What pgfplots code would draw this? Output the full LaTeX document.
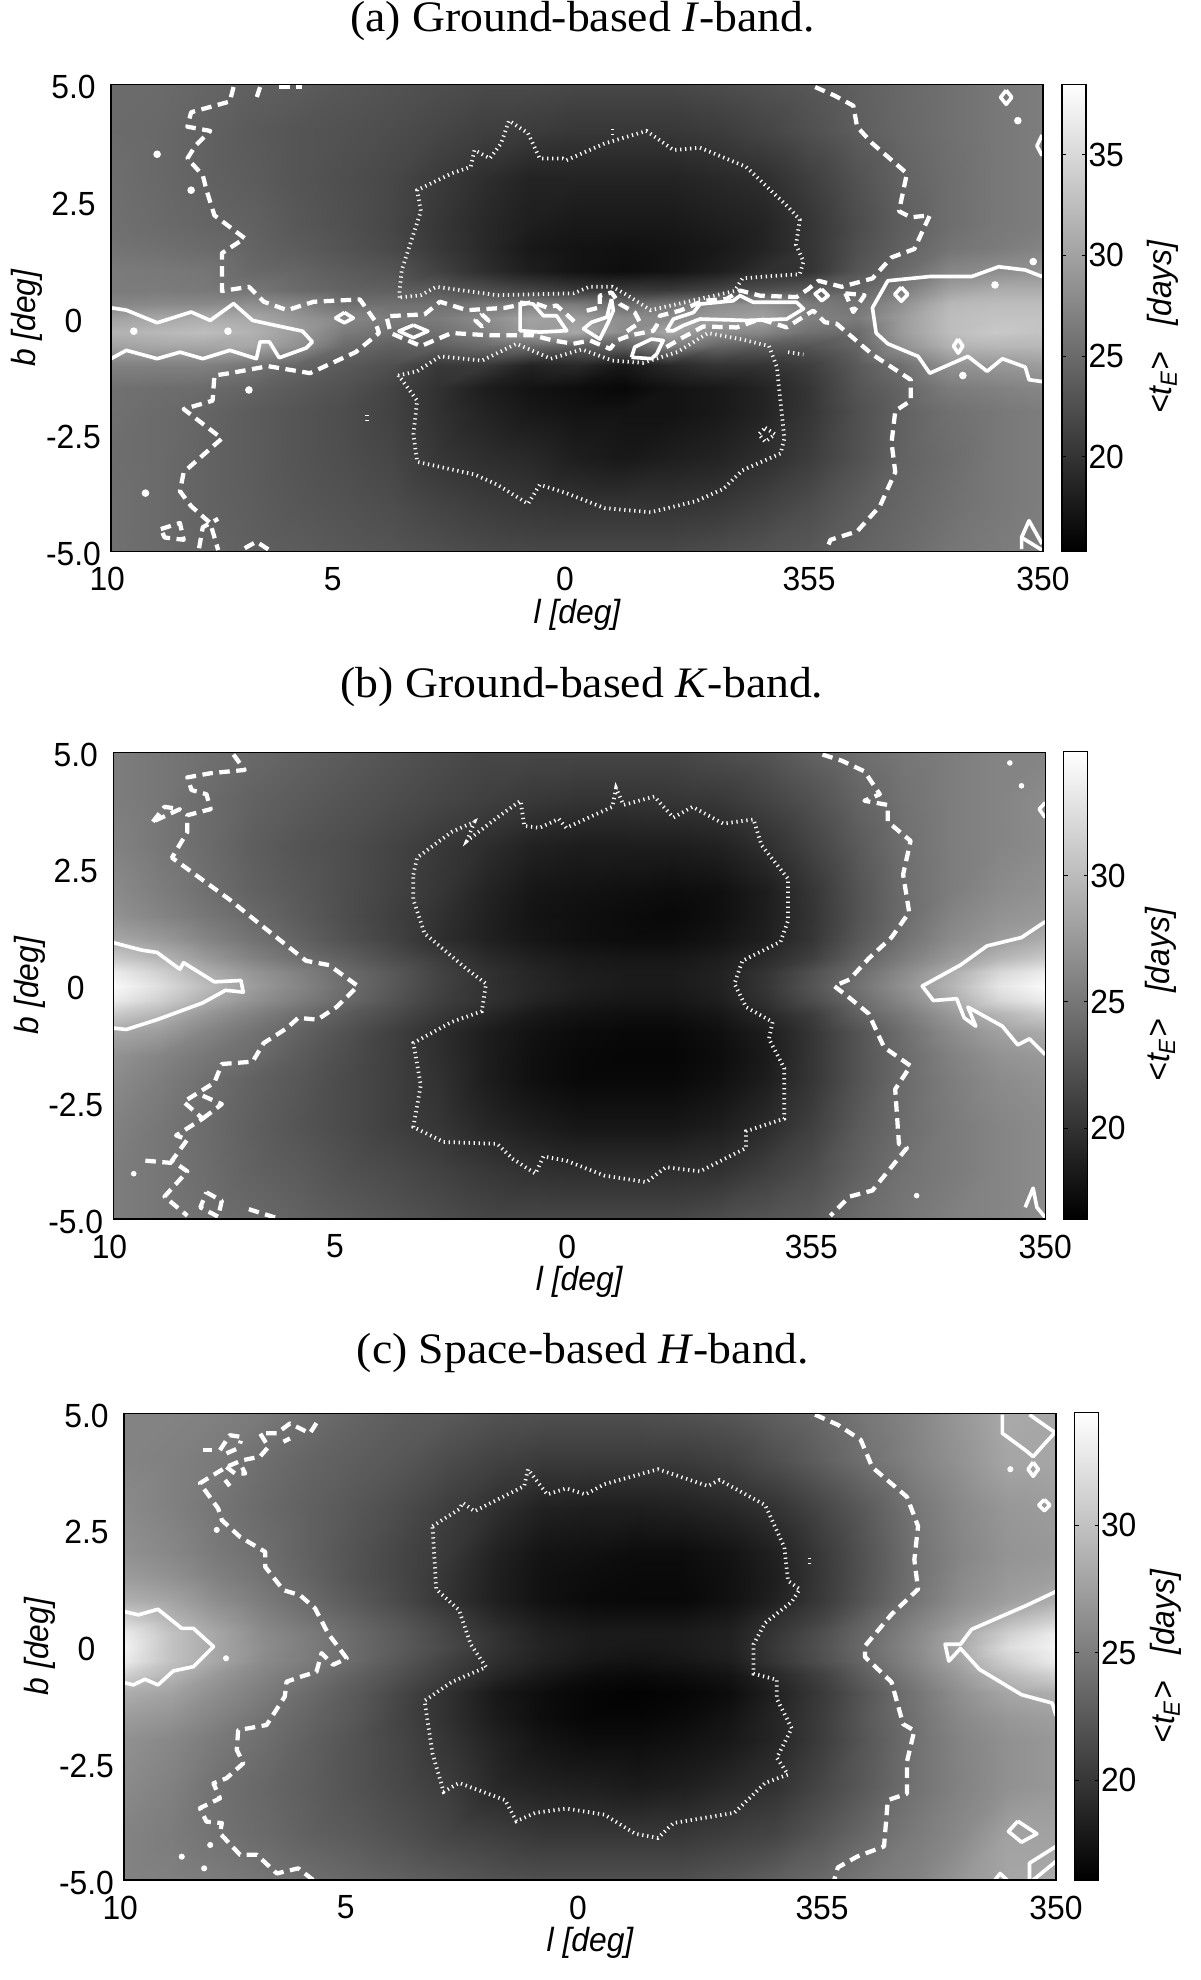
\documentclass[border=0pt]{standalone}
\usepackage{pgfplots}
\usepackage{pgfplotstable}
\usepackage{fontspec}
\pgfplotsset{compat=1.18}
\setmainfont{Liberation Serif}
\newfontfamily\hv[FakeStretch=0.95]{Liberation Sans}
\newfontfamily\tm[FakeStretch=1.05]{Liberation Serif}
\newcommand\hvf{\hv\fontsize{13.4}{16}\selectfont}
\newcommand\tmf{\tm\fontsize{17.4}{20}\selectfont}
% t_E maps: rows b=5,4,3,2,1.5,1,.6,.3,0,-.3,-.6,-1,-1.5,-2,-3,-4,-5 ; columns l=10,9,...,-10
\pgfplotstableread[row sep=\\,header=false]{
25\\25\\24.5\\24\\23.7\\23.2\\22.8\\22.4\\22\\22\\21.8\\21.8\\21.8\\22.2\\22.7\\23.2\\24\\24.8\\25.5\\26.2\\26.7\\
25\\24.8\\24.2\\23.5\\23\\22.7\\22.3\\21.7\\21\\20.7\\20.3\\20.3\\20.3\\20.7\\21.5\\22.6\\23.8\\24.7\\25.5\\26.2\\26.7\\
25.3\\24.8\\24.2\\23.7\\23\\22.4\\21.8\\20.7\\19.5\\18.5\\18.5\\18.5\\18.5\\19\\19.5\\21\\22.8\\24.3\\25.3\\26.2\\26.7\\
25.5\\25\\24.5\\24.2\\23.3\\22.6\\21.7\\20.3\\19\\18\\17.5\\17.5\\17.5\\18\\18.5\\20.1\\22.2\\23.9\\25.3\\26.2\\26.7\\
25.8\\25.5\\25\\24.4\\23.7\\22.9\\22\\20.5\\19\\17.5\\17\\16.8\\17\\17.5\\18.5\\20.1\\22.5\\24.2\\25.8\\26.5\\27.3\\
26.5\\26.3\\26\\24.8\\24.5\\23.7\\23\\21.3\\19.5\\18\\17\\16.5\\17\\18\\19.5\\20\\23\\25\\27.5\\28.2\\28.7\\
26.5\\26.5\\26.3\\26\\25\\24.3\\24\\23.5\\22.5\\21.5\\20.5\\20.5\\20.5\\21.5\\22.5\\23.5\\24.5\\26.7\\30\\31\\31\\
27.5\\27.8\\27.8\\28.3\\27.5\\25.5\\25.5\\25.5\\26\\27\\26.5\\25\\26\\28\\28.5\\26.5\\25.8\\28.5\\32\\32.5\\32.5\\
30\\30.5\\31\\30.5\\29\\27.5\\26.5\\26.5\\28\\30\\29.5\\28\\28\\29.5\\30\\27\\26.5\\29.5\\32.5\\33\\33\\
31.5\\32\\32.5\\31.5\\29.5\\26.5\\25.5\\25.5\\27\\29.5\\30.5\\28\\30.5\\28\\27.5\\25.5\\25\\29.5\\32.5\\33.5\\33\\
30\\30.5\\30.5\\30.5\\28.5\\25\\24\\24\\25\\25\\24\\24\\27\\24.5\\23.5\\23\\24.5\\28.5\\31.5\\32\\32\\
27\\27\\27\\26\\24.5\\23.5\\22.5\\20.5\\20.5\\18.5\\19\\17.5\\19\\20\\20\\21\\23.5\\25.5\\28.5\\29\\29.5\\
25.5\\25.3\\25\\24.3\\23.5\\22.7\\21.5\\19.8\\18\\17\\16.5\\16\\17\\17.5\\18.5\\20.2\\23\\24.5\\26.5\\27\\27.5\\
25.5\\25\\24.5\\23.7\\23\\22.3\\21.3\\19.8\\18.5\\17.5\\17\\17\\17\\17.5\\18.5\\20.2\\22.5\\24.2\\25.5\\26.2\\26.7\\
25.3\\25\\24.3\\23.7\\23\\22.4\\21.7\\20.3\\19.5\\19\\18\\17.5\\18\\18.5\\19.5\\20.8\\22.7\\24.3\\25.2\\26.2\\26.7\\
25.5\\25\\24.3\\23.8\\23.2\\22.8\\22.3\\21.5\\20.8\\20.3\\20\\20\\20\\20.3\\21.2\\22.3\\23.7\\24.6\\25.5\\26.2\\26.7\\
25.5\\25\\24.5\\24\\23.7\\23.3\\23\\22.5\\22\\21.8\\21.8\\21.8\\21.8\\22.2\\22.8\\23.3\\24.2\\25\\26\\26.5\\27\\
}\tabA
\pgfplotstableread[row sep=\\,header=false]{
25.5\\25\\24.5\\24\\23.5\\23\\22.5\\22\\21.5\\21.5\\21.5\\21.5\\21.5\\22\\22.5\\23.5\\24.4\\25\\25.5\\26\\26\\
25.5\\25\\24.2\\23.5\\23\\22.5\\22\\21.5\\21\\20.5\\20.2\\20.2\\20.3\\20.5\\21.3\\22.3\\23.7\\24.7\\25.5\\26\\26.5\\
25.8\\25\\24.2\\23.2\\22.5\\22\\21.3\\20.5\\19.7\\18.8\\18.5\\18.5\\18.5\\18.8\\19.8\\21.3\\23\\24.5\\25.5\\26\\26.5\\
26.5\\25.5\\24.5\\23.5\\22.8\\22\\21.2\\20.3\\19\\18\\17.7\\17.5\\17.3\\17.5\\18.5\\20.3\\22.5\\24.3\\25.5\\26.5\\27\\
27\\26\\25\\24\\23\\22\\21\\20\\18.8\\17.8\\17.5\\17.2\\17\\17.5\\18.5\\20.2\\22.5\\24.3\\26\\27\\27.5\\
28.5\\27.5\\26\\24.7\\23.5\\22.3\\21.2\\19.8\\18.8\\18\\17.5\\17.3\\17.3\\17.8\\18.7\\20.3\\22.8\\24.7\\26.5\\27.7\\29\\
31\\29.5\\27.5\\25.8\\24.4\\23.3\\22\\20.8\\19.5\\18.7\\18.2\\18\\18\\18.5\\19.5\\21\\23.5\\25.5\\27.5\\29.5\\31\\
33.5\\31.5\\29\\27.2\\25.7\\24.1\\22.8\\21.2\\20\\19.1\\18.5\\18.3\\18.3\\18.8\\20.2\\22.2\\24.3\\26.5\\29\\32\\33.5\\
34.5\\32.5\\30\\27.7\\26\\24.3\\22.8\\21.2\\20\\19.2\\18.6\\18.3\\18.3\\18.8\\20.3\\22.5\\24.7\\27\\29.5\\33\\34.5\\
33.5\\31.5\\29\\27\\25.5\\24\\22.5\\21\\20\\19\\18.3\\18\\18\\18.6\\20\\22\\24.2\\26.3\\28.8\\32\\33.5\\
31\\29.5\\27.3\\25.7\\24.3\\23\\21.8\\20.5\\19.3\\18.2\\17.7\\17.5\\17.5\\18\\19.3\\20.8\\23.5\\25.3\\27.5\\29.5\\31\\
28.5\\27.7\\26\\24.7\\23.5\\22.3\\21\\19.7\\18.5\\17.7\\17.2\\17\\17\\17.5\\18.5\\20.3\\22.5\\24.5\\26.5\\28\\28.7\\
27\\26\\25\\24.2\\23\\22\\21\\19.8\\18.5\\17.5\\17\\16.8\\16.8\\17.3\\18.3\\20.3\\22.5\\24.2\\25.8\\27\\27.5\\
26.5\\25.5\\24.5\\23.5\\22.7\\21.8\\21\\20\\18.5\\17.5\\17\\17\\17\\17.5\\18.5\\20.3\\22.5\\24.2\\25.5\\26.5\\27\\
25.8\\25\\24.2\\23.3\\22.5\\21.8\\21\\20.3\\19.2\\18.5\\18\\18\\18\\18.5\\19.5\\21\\23\\24.3\\25.3\\26\\26.5\\
25.5\\25\\24.3\\23.5\\23\\22.3\\21.8\\21.2\\20.5\\20\\19.8\\19.8\\19.8\\20\\21\\22\\23.5\\24.7\\25.3\\26\\26.5\\
25.5\\25\\24.5\\24\\23.5\\23\\22.5\\22\\21.5\\21.5\\21.5\\21.5\\21.5\\22\\22.5\\23\\24.2\\25\\25.7\\26\\26.5\\
}\tabB
\pgfplotstableread[row sep=\\,header=false]{
25.5\\25.5\\25.3\\24.8\\24\\23.3\\22.8\\22.5\\22\\21.8\\21.8\\21.8\\22\\22.3\\23\\23.7\\24.8\\25.7\\27\\28.3\\28\\
25.5\\25.3\\24.8\\24\\23.3\\22.8\\22.3\\21.5\\20.8\\20.3\\20.3\\20.3\\20.3\\20.8\\21.8\\23\\24.3\\25.5\\26.7\\28\\28\\
26\\25.3\\24.5\\23.7\\23\\22.3\\21.5\\20.5\\19.5\\18.5\\18.3\\18.3\\18.5\\19\\19.8\\21.2\\22.8\\24.6\\26\\27\\27.3\\
26.5\\25.8\\24.8\\24\\23\\22\\21\\20.1\\18.5\\17.5\\17.3\\17\\17\\17.5\\18.5\\20.3\\22.3\\24.3\\25.7\\26.7\\27\\
27.3\\26.5\\25.3\\24.3\\23.2\\22\\21\\19.8\\18.3\\17.3\\17\\16.8\\16.8\\17.3\\18.3\\20.2\\22.3\\24.3\\26\\27\\27.5\\
28.7\\27.8\\26.2\\24.9\\23.7\\22.5\\21.2\\19.7\\18.3\\17.3\\16.8\\16.7\\16.7\\17.3\\18.5\\20.3\\22.5\\24.5\\26.3\\27.5\\28.5\\
31\\29\\27.2\\25.5\\24.3\\23.2\\22\\20.6\\19\\18\\17.5\\17.5\\17.5\\18\\19.5\\21\\23.4\\25.3\\27.2\\29.2\\31\\
33\\30\\28\\26\\24.9\\23.6\\22.4\\21\\19.6\\18.4\\18\\18\\18\\18.4\\20\\21.8\\23.8\\25.8\\28.2\\31\\33\\
33.5\\30\\28\\26.2\\25\\23.7\\22.5\\21.2\\19.7\\18.6\\18\\17.8\\18\\18.5\\20.2\\22\\24\\26\\28.5\\32\\33.5\\
33\\30\\28\\26\\24.9\\23.6\\22.2\\20.7\\19.4\\18.4\\17.7\\17.4\\17.7\\18.2\\20\\21.8\\23.8\\25.8\\28.2\\31\\33\\
31\\29\\27\\25.5\\24.3\\23\\21.7\\20.3\\18.8\\17.8\\17\\16.8\\17\\17.5\\19\\20.8\\23.2\\25.2\\27.4\\29.5\\31\\
28.5\\27.7\\26.2\\25\\23.7\\22.5\\21\\19.5\\17.8\\17\\16.5\\16.3\\16.5\\17\\18.5\\20.3\\22.5\\24.5\\26.5\\28\\28.5\\
27.3\\26.7\\25.5\\24.3\\23.3\\22.3\\20.8\\19.5\\18\\17\\16.5\\16.5\\16.8\\17.5\\18.8\\20.5\\22.7\\24.3\\26\\27\\27.5\\
26.5\\25.8\\24.8\\24\\23\\22\\21\\19.8\\18.5\\17.5\\17\\17\\17.3\\17.8\\18.8\\20.5\\22.5\\24.2\\25.6\\26.5\\27\\
26\\25.3\\24.2\\23.5\\22.8\\22\\21.2\\20.4\\19\\18.5\\18.3\\18\\18.3\\19\\19.7\\21.2\\22.7\\24.3\\25.5\\26.5\\27\\
25.5\\25\\24.3\\23.7\\23\\22.5\\21.8\\21\\20.5\\20\\20\\20\\20\\20.5\\21\\22.3\\23.7\\24.9\\26\\27.7\\27.7\\
25.5\\25.3\\25\\24.5\\24\\23.5\\23\\22.5\\22\\21.8\\21.8\\21.8\\21.8\\22.3\\23\\23.7\\24.8\\25.5\\27\\28\\28.3\\
}\tabC
\pgfplotsset{
 ctS/.style={white,line width=1.45pt,line join=round,forget plot,no marks},
 ctD/.style={white,line width=1.7pt,dash pattern=on 4.2pt off 2.6pt,line join=round,forget plot,no marks},
 ctP/.style={white,line width=1.5pt,dash pattern=on .5pt off 1.5pt,forget plot,no marks},
 ctM/.style={white,only marks,mark=*,mark size=1.3pt,forget plot},
 every axis title shift=0pt,
 mapax/.style={
  scale only axis,width=372.8pt,height=186.7pt,anchor=south west,
  xmin=-10,xmax=10,ymin=-5,ymax=5,x dir=reverse,
  axis on top,axis line style={line width=.45pt},
  major tick length=0pt,
  xtick={10,5.24,.26,-4.98,-10},
  xticklabels={{10\kern3pt},5,0,355,350},
  ytick={5,2.5,0,-2.5,-5},
  yticklabels={5.0,2.5,0,-2.5,-5.0},
  tick label style={font=\hvf},
  xticklabel style={anchor=center,yshift=-11pt},
  yticklabel style={anchor=center,xshift=-15pt,yshift=-1pt},
  xlabel={l [deg]},ylabel={b [deg]},
  every axis x label/.style={at={(axis description cs:.5,-.135)},anchor=center,font=\hvf\itshape},
  every axis y label/.style={at={(axis description cs:-.09,.5)},anchor=center,rotate=90,font=\hvf\itshape},
  colormap/blackwhite,
  title style={font=\tmf},
 },
 cbax/.style={
  scale only axis,width=9.6pt,height=186.9pt,anchor=south west,
  xmin=0,xmax=1,xtick=\empty,
  axis on top,axis line style={line width=.45pt},
  tick align=inside,ytick pos=both,yticklabel pos=right,
  major tick length=1.6pt,tick style={black,line width=.4pt},
  /pgf/number format/assume math mode=true,
  tick label style={font=\hvf},
  yticklabel style={anchor=west,inner xsep=.8pt},
  ylabel={<t\textsubscript{E}>\ \ \ [days]},
  colormap/blackwhite,
 },
 cblab/.style 2 args={every axis y label/.style={at={(axis description cs:#1,#2)},anchor=center,rotate=90,font=\hvf\itshape}},
 heat/.style={surf,shader=interp,mesh/cols=21,point meta=explicit,forget plot},
 cbar/.style={surf,shader=interp,mesh/cols=2,point meta=y,forget plot},
}
\newcommand\heatplot[1]{\addplot[heat] table[x index=0,y index=0,
   x expr={\the\numexpr 10-\coordindex+21*((\coordindex-10)/21)\relax},
   y expr={\ifcase\numexpr(\coordindex-10)/21\relax 5\or 4\or 3\or 2\or 1.5\or 1\or .6\or .3\or 0\or -.3\or -.6\or -1\or -1.5\or -2\or -3\or -4\or -5\fi},
   meta index=0] {#1};}
\begin{document}
\begin{tikzpicture}
\path[use as bounding box] (0,0) rectangle (480pt,792pt);
% ---------- (a)
\begin{axis}[mapax,at={(44.4pt,571.4pt)},point meta min=15.3,point meta max=38.5,
  title={(a) Ground-based \textit{I}-band.},title style={at={(axis description cs:.506,1.136)},anchor=center}]
\heatplot{\tabA}
\addplot[ctS] coordinates {(10,.22)(9.67,.17)(9.01,-.10)(8.28,.13)(7.87,-.05)(7.37,.31)(6.96,-.05)(6.55,-.14)(5.89,-.28)(5.68,-.51)(5.81,-.64)(6.39,-.85)(6.60,-.51)(6.80,-.51)(6.88,-.87)(7.45,-.69)(8.03,-.87)(8.52,-.73)(9.01,-.87)(9.67,-.69)(10,-.87)};
\addplot[ctS] coordinates {(1.22,.34)(.94,.30)(.72,.05)(.44,.05)(.22,-.27)(.79,-.30)(1.22,-.27)(1.22,.34)};
\addplot[ctS] coordinates {(-.74,.41)(-.78,.16)(-.67,-.09)(-.49,-.45)(-.14,-.23)(-.31,-.09)(-.64,.02)(-.74,.41)};
\addplot[ctS] coordinates {(-1.17,-.84)(-1.24,-.62)(-1.60,-.45)(-1.85,-.48)(-1.71,-.77)(-1.60,-.87)(-1.17,-.84)};
\addplot[ctS] coordinates {(-1.92,-.27)(-2.07,-.02)(-2.50,.12)(-2.64,.30)(-3.35,.37)(-3.50,.48)(-3.78,.34)(-4.71,.34)(-4.86,.20)(-4.50,-.02)(-3.64,-.05)(-2.64,-.02)(-2.28,-.16)(-2.07,-.27)(-1.92,-.27)};
\addplot[ctS] coordinates {(-5.25,.62)(-5.39,.48)(-5.25,.37)(-5.11,.52)(-5.25,.62)};
\addplot[ctS] coordinates {(-9.98,.89)(-9.62,1.03)(-9.05,1.10)(-8.47,.89)(-7.57,.89)(-6.67,.80)(-6.34,.22)(-6.42,-.32)(-6.67,-.55)(-7.32,-.82)(-7.57,-1.18)(-7.98,-1.00)(-8.39,-.82)(-8.80,-1.14)(-9.13,-.87)(-9.62,-1.05)(-9.70,-1.32)(-9.98,-1.36)};
\addplot[ctS] coordinates {(-6.96,.66)(-7.1,.51)(-6.96,.36)(-6.82,.51)(-6.96,.66)};
\addplot[ctS] coordinates {(-8.18,-.45)(-8.28,-.60)(-8.18,-.75)(-8.08,-.60)(-8.18,-.45)};
\addplot[ctS] coordinates {(-9.21,4.88)(-9.33,4.73)(-9.21,4.58)(-9.09,4.73)(-9.21,4.88)};
\addplot[ctS] coordinates {(-9.98,3.92)(-9.87,3.69)(-9.98,3.48)};
\addplot[ctS] coordinates {(-9.54,-4.95)(-9.54,-4.7)(-9.70,-4.34)(-9.98,-4.84)};
\addplot[ctS] coordinates {(-9.54,-4.7)(-9.98,-4.97)};
\addplot[ctS] coordinates {(4.99,.12)(4.8,0)(4.99,-.1)(5.18,0)(4.99,.12)};
\addplot[ctS] coordinates {(3.51,-.15)(3.2,-.28)(3.51,-.42)(3.82,-.28)(3.51,-.15)};
\addplot[ctM] coordinates {(9.51,-.28)(7.49,-.28)(-9.46,4.23)(-9.79,1.21)(-8.97,.71)(-8.28,-1.23)(9.01,3.51)(8.28,2.74)(9.26,-3.75)(7.04,-1.54)};
\addplot[ctD] coordinates {(7.37,4.95)(7.45,4.64)(8.28,4.41)(8.36,4.10)(7.87,4.01)(8.19,3.69)(8.36,3.42)(8.03,3.06)(7.95,2.74)(7.78,2.20)(7.13,1.71)(7.62,1.39)(7.62,.58)(7.04,.67)(6.72,.35)(6.22,.17)(5.65,.35)(4.66,.40)(4.34,-.05)(4.25,-.32)(4.75,-.73)(5.73,-1.18)(6.63,-1.03)(7.45,-1.18)(7.78,-1.23)(7.82,-1.77)(8.44,-1.95)(7.62,-2.58)(8.03,-2.94)(8.44,-3.30)(8.52,-3.71)(8.28,-4.03)(7.87,-4.39)(7.70,-4.97)};
\addplot[ctD] coordinates {(6.80,4.95)(6.88,4.71)};
\addplot[ctD] coordinates {(6.39,4.95)(5.90,4.95)};
\addplot[ctD] coordinates {(8.93,-4.52)(8.52,-4.39)(8.44,-4.75)(8.85,-4.70)(8.93,-4.52)};
\addplot[ctD] coordinates {(8.11,-4.93)(8.03,-4.48)(7.70,-4.30)};
\addplot[ctD] coordinates {(7.13,-4.93)(6.88,-4.79)(6.60,-4.97)};
\addplot[ctD] coordinates {(-5.11,4.95)(-5.52,4.77)(-5.93,4.55)(-6.01,4.10)(-6.34,3.74)(-7.08,3.10)(-6.91,2.29)(-7.16,2.16)(-7.57,2.20)(-7.24,1.48)(-6.75,1.30)(-6.34,.85)(-5.68,.67)(-5.18,.80)(-4.96,.62)(-4.71,.45)(-3.93,.48)(-3.50,.59)(-3.21,.41)(-2.71,.37)(-2.21,.16)(-1.78,.05)(-1.75,-.09)(-1.64,-.27)(-1.14,-.37)(-.85,-.48)(-.71,-.66)(-.28,-.48)(.08,-.55)(.51,-.48)(.94,-.37)(1.23,-.37)(1.87,-.37)(2.69,-.32)(3.35,-.60)(4.0,-.32)(4.09,.04)(3.27,.08)(2.94,.35)(2.36,.17)(1.54,.22)(.97,.34)(.65,.23)(.44,.27)(.19,.05)(.01,-.12)};
\addplot[ctD] coordinates {(-.21,.16)(-.49,.23)(-.49,.48)(-.74,.55)(-.92,.30)(-1.24,.12)(-1.35,-.09)(-.99,-.34)};
\addplot[ctD] coordinates {(-1.92,-.62)(-2.28,-.41)(-2.71,-.18)(-3.43,-.20)(-3.93,-.02)(-4.50,-.20)(-4.89,.05)(-5.07,.16)(-5.32,-.09)(-5.57,-.12)(-6.34,-.78)(-7.16,-1.32)(-7.16,-1.77)(-6.83,-1.99)(-6.75,-2.67)(-6.83,-3.30)(-6.50,-4.03)(-6.01,-4.57)(-5.44,-4.75)(-5.35,-4.97)};
\addplot[ctD] coordinates {(-5.76,.53)(-6.17,.49)(-5.93,.13)(-5.76,.53)};
\addplot[ctD] coordinates {(2.04,.08)(1.9,-.05)(2.04,-.18)(2.18,-.05)(2.04,.08)};
\addplot[ctP] coordinates {(3.81,.44)(3.81,.58)(3.76,1.03)(3.35,2.29)(3.43,2.74)(2.69,3.10)(2.28,3.24)(2.20,3.60)(1.87,3.42)(1.63,3.74)(1.46,4.23)(1.05,3.96)(.80,3.42)(.31,3.42)(.23,3.38)(-.59,3.74)(-1.49,4.01)(-2.07,3.60)(-2.64,3.65)(-3.63,3.24)(-4.53,2.38)(-4.78,2.11)(-4.70,1.57)(-4.86,1.21)(-4.78,.94)(-4.04,.89)(-3.55,.85)(-3.38,.58)(-1.58,.17)(-1.08,.49)(-.76,.67)(-.26,.67)(.07,.53)(1.71,.49)(3.02,.67)(3.35,.49)(3.81,.44)};
\addplot[ctP] coordinates {(-.76,4.05)(-.76,3.92)};
\addplot[ctP] coordinates {(3.84,-1.23)(3.43,-1.14)(2.94,-.82)(2.04,-.91)(1.30,-.55)(.56,-.87)(-.10,-.67)(-.76,-.91)(-1.41,-.96)(-2.15,-.73)(-2.81,-.32)(-3.55,-.46)(-4.12,-.60)(-4.29,-1.05)(-4.45,-2.58)(-4.37,-2.90)(-3.55,-3.26)(-3.14,-3.66)(-2.56,-3.92)(-1.58,-4.16)(-.59,-4.07)(.23,-3.75)(.80,-3.57)(1.05,-3.98)(1.71,-3.57)(2.20,-3.35)(3.43,-3.08)(3.51,-2.49)(3.43,-1.77)(3.76,-1.32)(3.84,-1.23)};
\addplot[ctP] coordinates {(-4.04,-2.35)(-4.25,-2.49)(-4.04,-2.65)(-3.9,-2.49)(-4.04,-2.35)};
\addplot[ctP] coordinates {(-4.53,-.73)(-4.86,-.78)};
\addplot[ctP] coordinates {(4.50,-2.08)(4.50,-2.27)};
\end{axis}
\begin{axis}[cbax,at={(424.8pt,571.4pt)},ymin=15.3,ymax=38.5,ytick={20,25,30,35},point meta min=15.3,point meta max=38.5,cblab={4.2}{.48}]
\addplot[cbar] coordinates {(0,15.3)(1,15.3)(0,38.5)(1,38.5)};
\end{axis}
% ---------- (b)
\begin{axis}[mapax,at={(45.3pt,304.4pt)},point meta min=16.4,point meta max=34.9,
  title={(b) Ground-based \textit{K}-band.},title style={at={(axis description cs:.503,1.139)},anchor=center}]
\heatplot{\tabB}
\addplot[ctS] coordinates {(10,.92)(9.39,.76)(9.06,.71)(8.57,.35)(8.49,.49)(7.83,.08)(7.26,.11)(7.21,-.14)(7.59,-.10)(8.08,-.37)(9.06,-.73)(9.72,-.94)(10,-.91)};
\addplot[ctS] coordinates {(-10,1.37)(-9.49,1.03)(-8.75,.85)(-8.18,.44)(-7.36,-.01)(-7.60,-.32)(-8.10,-.28)(-8.26,-.69)(-8.51,-.87)(-8.34,-.46)(-9.08,-.87)(-9.41,-1.27)(-9.66,-1.14)(-10,-1.48)};
\addplot[ctS] coordinates {(-9.57,-4.75)(-9.74,-4.34)(-9.82,-4.75)(-10,-4.97)};
\addplot[ctS] coordinates {(-10,3.92)(-9.87,3.78)(-10,3.6)};
\addplot[ctM,mark size=.9pt] coordinates {(-9.24,4.77)(-9.49,4.28)(-7.24,-4.50)(9.56,-4.03)};
\addplot[ctD] coordinates {(7.42,4.95)(7.18,4.62)(7.91,4.55)(8.41,4.46)(8.32,4.19)(8.0,4.10)(7.91,3.78)(8.41,3.65)(8.41,3.29)(8.74,2.74)(8.49,2.56)(7.50,1.84)(6.77,1.25)(5.86,.53)(5.37,.44)(4.75,-.01)(5.21,-.46)(5.62,-.73)(6.03,-.69)(6.27,-.91)(6.77,-1.23)(7.01,-1.63)(7.67,-1.68)(7.83,-2.08)(8.49,-2.49)(8.08,-2.85)(8.65,-3.21)(8.41,-3.30)(8.74,-3.75)(8.41,-3.98)(8.90,-4.52)(8.41,-4.93)};
\addplot[ctD] coordinates {(8.08,-2.36)(7.67,-2.54)(8.08,-2.85)};
\addplot[ctD] coordinates {(8.0,-4.43)(7.67,-4.61)(7.75,-4.95)(8.13,-4.75)(8.0,-4.43)};
\addplot[ctD] coordinates {(9.15,3.51)(8.90,3.83)(8.57,3.78)(8.98,3.59)(9.15,3.51)};
\addplot[ctD] coordinates {(9.31,-3.75)(8.74,-3.8)};
\addplot[ctD] coordinates {(7.09,-4.79)(6.52,-4.97)};
\addplot[ctD] coordinates {(-5.22,4.95)(-5.63,4.82)(-6.12,4.59)(-6.45,4.10)(-6.12,3.96)(-6.62,3.87)(-6.62,3.51)(-7.11,3.10)(-6.95,2.38)(-7.08,1.57)(-6.70,1.03)(-6.21,.58)(-5.80,.13)(-5.47,-.01)(-5.76,-.23)(-6.21,-.60)(-6.54,-1.32)(-7.11,-1.72)(-6.78,-2.22)(-6.86,-3.39)(-7.03,-3.48)(-6.29,-4.39)(-5.80,-4.52)(-5.39,-4.93)};
\addplot[ctP] coordinates {(3.56,2.38)(3.48,2.74)(2.74,3.29)(2.25,3.51)(2.41,3.10)(1.76,3.60)(1.26,3.96)(1.18,3.42)(.85,3.38)(.44,3.57)(.28,3.38)(-.71,3.83)(-.79,4.23)(-.95,3.87)(-1.61,4.05)(-2.02,3.60)(-2.43,3.83)(-3.09,3.47)(-3.74,3.56)(-3.91,3.01)(-4.48,2.29)(-4.48,1.39)(-4.32,.94)(-3.50,.53)(-3.33,.04)(-3.58,-.46)(-4.15,-.78)(-4.07,-1.14)(-4.40,-1.77)(-4.40,-2.85)(-3.58,-3.12)(-3.58,-3.48)(-2.59,-3.98)(-1.86,-3.89)(-1.44,-4.21)(-.54,-4.07)(.28,-3.75)(.77,-3.66)(.94,-4.03)(1.43,-3.71)(1.76,-3.39)(2.91,-3.35)(3.56,-3.03)(3.40,-2.13)(3.56,-1.23)(2.74,-.78)(2.09,-.55)(2.00,.04)(2.41,.35)(3.32,1.12)(3.56,1.84)(3.56,2.38)};
\end{axis}
\begin{axis}[cbax,at={(425.5pt,304.4pt)},ymin=16.4,ymax=34.9,ytick={20,25,30},point meta min=16.4,point meta max=34.9,cblab={4.05}{.48}]
\addplot[cbar] coordinates {(0,16.4)(1,16.4)(0,34.9)(1,34.9)};
\end{axis}
% ---------- (c)
\begin{axis}[mapax,at={(49.6pt,40pt)},point meta min=16.1,point meta max=34.4,
  title={(c) Space-based \textit{H}-band.},title style={at={(axis description cs:.4925,1.129)},anchor=center}]
\heatplot{\tabC}
\addplot[ctS] coordinates {(10,.75)(9.69,.68)(9.27,.80)(8.76,.39)(8.51,.39)(8.08,0)(8.51,-.43)(8.94,-.52)(9.27,-.82)(9.55,-.70)(9.8,-.82)(10,-.77)};
\addplot[ctS] coordinates {(-10,1.18)(-9.34,.87)(-8.19,.37)(-7.95,.05)(-7.62,.05)(-7.70,-.31)(-7.95,-.04)(-8.36,-.49)(-9.26,-1.03)(-9.92,-1.21)(-10,-1.48)};
\addplot[ctS] coordinates {(-8.85,4.97)(-8.85,4.57)(-9.34,4.21)(-9.51,4.07)(-9.75,4.34)(-10,4.61)};
\addplot[ctS] coordinates {(-9.43,4.97)(-10,4.57)};
\addplot[ctS] coordinates {(-9.51,3.95)(-9.62,3.80)(-9.51,3.65)(-9.40,3.80)(-9.51,3.95)};
\addplot[ctS] coordinates {(-9.75,3.15)(-9.87,3.03)(-9.75,2.91)(-9.63,3.03)(-9.75,3.15)};
\addplot[ctS] coordinates {(-9.18,-3.74)(-9.59,-4.01)(-9.26,-4.19)(-8.98,-3.96)(-9.18,-3.74)};
\addplot[ctS] coordinates {(-8.69,-5)(-8.8,-4.86)(-8.95,-5)};
\addplot[ctS] coordinates {(-9.43,-5)(-9.43,-4.64)(-10,-4.28)};
\addplot[ctS] coordinates {(-9.51,-5)(-10,-4.6)};
\addplot[ctM,mark size=1pt] coordinates {(7.81,-.25)(-9.02,3.80)(8.01,2.50)(8.76,-4.50)(8.28,-4.75)(8.15,-4.25)};
\addplot[ctD] coordinates {(5.94,-5)(6.26,-4.75)(6.72,-4.86)(7.15,-4.46)(7.51,-4.46)(7.94,-4.0)(7.90,-3.78)(8.23,-3.75)(8.37,-3.46)(7.94,-3.25)(8.08,-2.93)(7.80,-2.82)(7.44,-2.50)(7.58,-2.21)(7.55,-1.79)(6.94,-1.68)(6.55,-1.07)(6.51,-.75)(6.19,-.64)(5.87,-.54)(5.76,-.14)(5.51,-.39)(5.22,-.25)(5.62,.28)(5.90,.82)(6.22,1.10)(6.58,1.21)(6.97,1.71)(6.97,2.03)(7.51,2.35)(7.90,2.71)(7.98,2.96)(8.37,3.50)(7.80,3.85)(7.47,3.99)(7.08,4.07)(6.90,4.28)(7.08,4.57)(6.72,4.57)(6.44,4.78)(6.01,4.57)(5.83,4.85)};
\addplot[ctD] coordinates {(8.30,4.22)(8.12,4.22)};
\addplot[ctD] coordinates {(7.94,4.21)(7.73,4.53)(7.47,4.49)(7.51,4.35)};
\addplot[ctD] coordinates {(7.80,4.14)(7.55,4.25)};
\addplot[ctD] coordinates {(7.80,3.85)(7.62,3.71)(7.40,3.71)(7.47,3.85)};
\addplot[ctD] coordinates {(7.83,3.57)(7.73,3.44)};
\addplot[ctD] coordinates {(6.58,4.39)(6.44,4.46)};
\addplot[ctD] coordinates {(-4.83,4.97)(-5.32,4.75)(-5.81,4.43)(-6.06,3.84)(-6.80,3.21)(-7.04,2.58)(-6.96,1.86)(-7.04,1.23)(-6.47,.69)(-5.90,.01)(-5.90,-.22)(-6.47,-.76)(-6.72,-1.66)(-6.96,-1.80)(-6.80,-2.47)(-6.80,-3.15)(-6.39,-3.29)(-6.31,-4.28)(-5.73,-4.50)(-5.32,-4.73)(-5.24,-5)};
\addplot[ctP] coordinates {(3.38,2.58)(2.81,2.94)(2.73,3.08)(2.48,2.90)(1.41,3.44)(1.33,3.80)(.92,3.26)(.51,3.39)(.10,3.26)(-.31,3.48)(-1.46,3.80)(-2.53,3.44)(-2.78,3.57)(-3.76,3.03)(-4.17,2.13)(-4.25,1.41)(-4.50,1.23)(-4.33,.96)(-3.76,.51)(-3.51,.05)(-3.51,-.58)(-4.01,-.71)(-4.01,-1.12)(-4.33,-1.75)(-4.01,-2.38)(-4.25,-2.74)(-3.76,-2.92)(-3.10,-3.56)(-1.79,-3.78)(-1.46,-4.10)(-.97,-4.01)(-.31,-3.60)(.51,-3.47)(1.17,-3.56)(1.58,-3.74)(1.82,-3.29)(2.81,-2.92)(3.14,-3.11)(3.38,-2.29)(3.55,-1.16)(2.97,-.76)(2.23,-.44)(2.56,.05)(2.81,.78)(3.30,1.23)(3.38,2.58)};
\addplot[ctP] coordinates {(-4.71,1.9)(-4.71,1.7)};
\end{axis}
\begin{axis}[cbax,at={(429.8pt,40pt)},ymin=16.1,ymax=34.4,ytick={20,25,30},point meta min=16.1,point meta max=34.4,cblab={3.8}{.478}]
\addplot[cbar] coordinates {(0,16.1)(1,16.1)(0,34.4)(1,34.4)};
\end{axis}
\end{tikzpicture}
\end{document}
